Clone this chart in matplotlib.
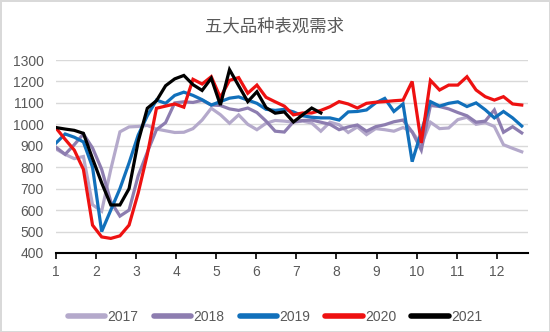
import numpy as np
import matplotlib
matplotlib.use("Agg")
import matplotlib.pyplot as plt

plt.rcParams['font.family'] = ['Liberation Sans', 'Noto Sans CJK SC', 'DejaVu Sans']

title = "五大品种表观需求"
years = ["2017", "2018", "2019", "2020", "2021"]
month_ticks = [1, 2, 3, 4, 5, 6, 7, 8, 9, 10, 11, 12]

v2017 = [885, 860, 840, 850, 625, 595, 790, 965, 988, 990, 995, 978, 970, 962, 963, 980,
         1020, 1075, 1045, 1005, 1044, 1000, 975, 1005, 1018, 1015, 1010, 1015, 1006, 968,
         1010, 998, 962, 988, 952, 980, 975, 968, 985, 965, 905, 1010, 980, 983, 1022, 1033,
         1000, 1008, 990, 905, 888, 872]
v2018 = [893, 860, 905, 955, 890, 790, 640, 572, 600, 760, 870, 975, 1008, 1100, 1105, 1102,
         1112, 1090, 1088, 1072, 1065, 1076, 1055, 1015, 968, 964, 1012, 1018, 1020, 1010,
         1000, 975, 988, 997, 968, 989, 998, 1012, 1020, 965, 880, 1088, 1083, 1072, 1055, 1040,
         1010, 1015, 1067, 963, 989, 960]
v2019 = [913, 955, 940, 918, 800, 500, 600, 700, 820, 950, 1040, 1113, 1098, 1135, 1150, 1135,
         1115, 1090, 1106, 1122, 1128, 1113, 1098, 1070, 1065, 1070, 1058, 1040, 1033, 1030,
         1030, 1020, 1058, 1060, 1067, 1100, 1121, 1060, 1095, 826, 965, 1106, 1085, 1098, 1105, 1083,
         1100, 1068, 1030, 1060, 1030, 992]
v2020 = [983, 930, 880, 790, 530, 475, 468, 480, 530, 680, 860, 1075, 1085, 1095, 1080, 1210,
         1188, 1222, 1125, 1205, 1218, 1145, 1183, 1126, 1105, 1085, 1044, 1053, 1053, 1065,
         1082, 1106, 1095, 1076, 1098, 1103, 1106, 1110, 1113, 1200, 913, 1205, 1160, 1183, 1183, 1222,
         1160, 1129, 1113, 1129, 1095, 1090]
v2021 = [985, 978, 972, 958, 840, 727, 624, 624, 700, 920, 1075, 1110, 1180, 1212, 1228, 1185,
         1158, 1215, 1090, 1255, 1180, 1106, 1152, 1078, 1052, 1058, 1011, 1044, 1076, 1053]

series = [v2017, v2018, v2019, v2020, v2021]
colors = ["#b4a9cb", "#8d7db0", "#1170bb", "#ee1111", "#000000"]

fig = plt.figure(figsize=(5.5, 3.32), dpi=100)
fig.patch.set_facecolor("white")
fig.patch.set_edgecolor("#d9d9d9")
fig.patch.set_linewidth(2)
ax = fig.add_axes([56/550, 1-253/332, (528-56)/550, (253-60)/332])

step = 12 / 52.65
for name, vals, c in zip(years, series, colors):
    x = 1 + np.arange(len(vals)) * step
    ax.plot(x, vals, color=c, lw=2.3, label=name, solid_joinstyle='miter')

ax.set_xlim(1, 12.78)
ax.set_ylim(400, 1300)
ax.set_yticks(np.arange(400, 1301, 100))
ax.set_xticks(month_ticks)
ax.yaxis.grid(True, color="#d9d9d9", lw=1)
ax.set_axisbelow(True)
for s in ["left", "right", "top"]:
    ax.spines[s].set_visible(False)
ax.spines["bottom"].set_color("black")
ax.spines["bottom"].set_linewidth(1.5)
ax.tick_params(axis="y", length=0, labelsize=10, labelcolor="#595959", pad=9)
ax.tick_params(axis="x", length=4, width=1.2, direction="out", labelsize=10,
               labelcolor="#595959", pad=5, colors="black")
for lab in ax.get_xticklabels():
    lab.set_color("#595959")

fig.text(274/550, 1-26/332, title, ha="center", va="center", fontsize=12.5, color="#595959",
         family=["Noto Sans CJK SC", "DejaVu Sans"])

leg = fig.legend(loc="center", bbox_to_anchor=(0.5, 1-317/332), ncol=5, frameon=False,
                 fontsize=10, handlelength=2.7, columnspacing=1.1, handletextpad=0.15)
for t in leg.get_texts():
    t.set_color("#595959")
for h in leg.get_lines():
    h.set_linewidth(4)
    h.set_solid_capstyle("round")

fig.savefig("out.png", dpi=100, facecolor="white", edgecolor="#d9d9d9")
